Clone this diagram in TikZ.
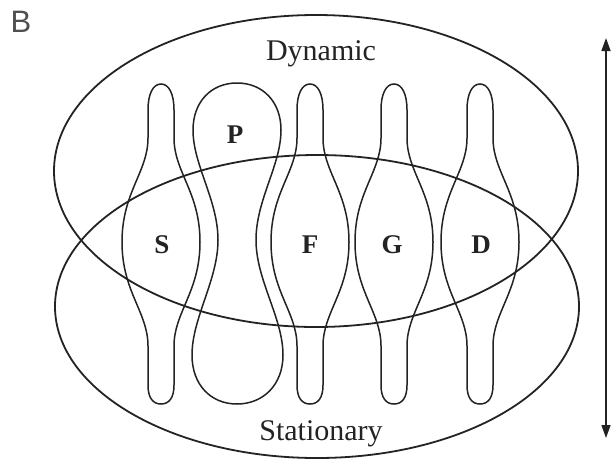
\documentclass[tikz,border=0pt]{standalone}
\usepackage{fontspec}
\setmainfont{Liberation Serif}
\newfontfamily\panelfont{Liberation Sans}
\usetikzlibrary{arrows.meta}
\definecolor{inkgray}{RGB}{35,35,35}
\tikzset{
  setline/.style={draw=inkgray,line width=1.8pt},
  lobeline/.style={draw=inkgray,line width=1.5pt},
  lbl/.style={font=\fontsize{27}{29}\selectfont\bfseries,text=inkgray,
              inner sep=0pt},
  ttl/.style={font=\fontsize{30}{32}\selectfont,text=inkgray,inner sep=0pt},
  scalearr/.style={{Triangle[length=13pt,width=9pt]}-{Triangle[length=13pt,width=9pt]},
                   draw=inkgray,line width=1.4pt},
  lobe/.pic={
    \draw[lobeline] (0,84) .. controls (8,84) and (13,94) .. (13,110)
      -- (13,138) .. controls (13,172) and (39,192) .. (39,242)
      .. controls (39,292) and (13,312) .. (13,346)
      -- (13,385) .. controls (13,398) and (8,404) .. (0,404)
      .. controls (-8,404) and (-13,398) .. (-13,385)
      -- (-13,346) .. controls (-13,312) and (-39,292) .. (-39,242)
      .. controls (-39,192) and (-13,172) .. (-13,138)
      -- (-13,110) .. controls (-13,94) and (-8,84) .. (0,84) -- cycle;
  },
}
\begin{document}
\begin{tikzpicture}[x=1pt,y=-1pt]
  \fill[white] (0,0) rectangle (612,461);
  \useasboundingbox (0,0) rectangle (612,461);

  % the two sets
  \draw[setline] (316,171) ellipse [x radius=262, y radius=156];
  \draw[setline] (317,306.5) ellipse [x radius=262, y radius=151.5];

  % lobes
  \foreach \cx in {161,310,394,480}
    \pic at (\cx,0) {lobe};
  \draw[lobeline] (237,83) .. controls (263,83) and (281,102) .. (281,130)
    .. controls (281,165) and (256,200) .. (256,240)
    .. controls (256,280) and (283,318) .. (283,355)
    .. controls (283,385) and (263,404) .. (237,404)
    .. controls (211,404) and (192,385) .. (192,355)
    .. controls (192,318) and (218,280) .. (218,240)
    .. controls (218,200) and (193,165) .. (193,130)
    .. controls (193,102) and (211,83) .. (237,83) -- cycle;

  \node[lbl](S) at (162,245) {S};
  \node[lbl](P) at (235,135) {P};
  \node[lbl](F) at (310,245) {F};
  \node[lbl](G) at (392,245) {G};
  \node[lbl](D) at (481,245) {D};

  \node[ttl,anchor=base](dyn) at (321,60)  {Dynamic};
  \node[ttl,anchor=base](sta) at (321,440) {Stationary};
  \node[font=\panelfont\fontsize{31}{31}\selectfont,text=inkgray!80](pan) at (21,22) {B};

  \coordinate (hi) at (606,38);
  \coordinate (lo) at (606,438);
  \draw[scalearr] (lo) -- (hi);
\end{tikzpicture}
\end{document}
